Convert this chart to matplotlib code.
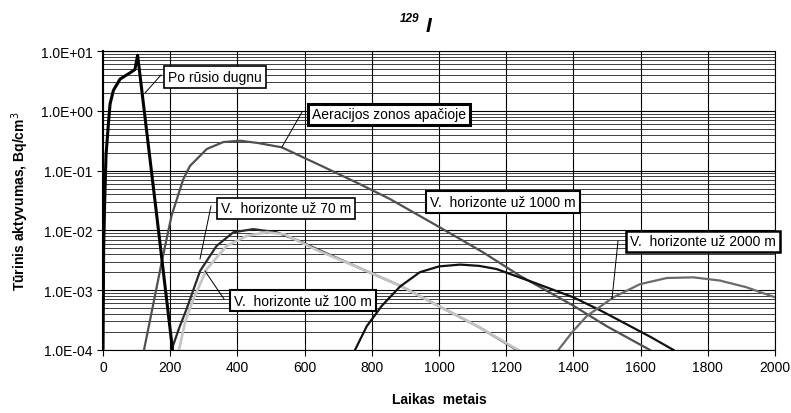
import numpy as np
from matplotlib import pyplot as plt
from matplotlib.ticker import FuncFormatter, LogLocator, MultipleLocator

plt.rcParams['font.family'] = ['Liberation Sans', 'DejaVu Sans']
plt.rcParams['font.size'] = 10

# kreivių duomenys (nuskaityti iš paveikslo)
po_x = [0, 2, 5, 9, 16, 21, 31, 51, 80, 95, 103, 160, 207]
po_y = [1e-4, 5e-3, 0.03, 0.18, 0.6, 1.3, 2.2, 3.4, 4.3, 4.9, 8.5, 0.0176, 1e-4]

aer_x = [122, 150, 175, 204, 239, 259, 309, 358, 408, 460, 532, 650, 760, 854,
         1003, 1131, 1241, 1400, 1499, 1628]
aer_y = [1e-4, 6e-4, 3e-3, 0.0176, 0.072, 0.12, 0.23, 0.30, 0.316, 0.29, 0.245,
         0.12, 0.061, 0.0335, 0.0112, 4.3e-3, 1.74e-3, 5.5e-4, 2.5e-4, 1e-4]

h70_x = [204, 225, 249, 289, 338, 388, 447, 517, 580, 636, 760, 884, 1003, 1120, 1232]
h70_y = [1e-4, 2.2e-4, 4.9e-4, 2.1e-3, 5.5e-3, 9.3e-3, 0.0105, 0.0093, 0.0068,
         0.0049, 0.0024, 1.19e-3, 5.3e-4, 2.4e-4, 1e-4]

h100_x = [226, 245, 269, 309, 368, 428, 487, 540, 636, 760, 884, 1003, 1120, 1236]
h100_y = [1e-4, 3e-4, 7.1e-4, 2.26e-3, 5.5e-3, 8.1e-3, 9.3e-3, 8.6e-3, 4.7e-3,
          2.4e-3, 1.19e-3, 5.3e-4, 2.4e-4, 1e-4]

h1000_x = [750, 785, 830, 884, 943, 1000, 1063, 1120, 1171, 1281, 1400, 1480,
           1558, 1630, 1698]
h1000_y = [1e-4, 2.5e-4, 5.5e-4, 1.15e-3, 2.0e-3, 2.5e-3, 2.68e-3, 2.55e-3,
           2.26e-3, 1.35e-3, 7.6e-4, 4.6e-4, 2.7e-4, 1.65e-4, 1e-4]

h2000_x = [1355, 1400, 1440, 1519, 1598, 1678, 1757, 1836, 1915, 2000]
h2000_y = [1e-4, 2.1e-4, 3.7e-4, 7.6e-4, 1.26e-3, 1.6e-3, 1.64e-3, 1.45e-3,
           1.12e-3, 7.6e-4]

W, H = 791, 414
fig = plt.figure(figsize=(W / 100, H / 100), dpi=100)
ax = fig.add_axes([103 / W, 1 - 351 / H, (775 - 103) / W, (351 - 52) / H])

ax.set_yscale('log')
ax.set_xlim(0, 2000)
ax.set_ylim(1e-4, 1e1)
ax.xaxis.set_major_locator(MultipleLocator(200))
ax.yaxis.set_major_locator(LogLocator(base=10, numticks=10))
ax.yaxis.set_minor_locator(LogLocator(base=10, subs=np.arange(2, 10), numticks=20))
ax.yaxis.set_major_formatter(FuncFormatter(lambda v, p: f"{v:.1E}"))
ax.yaxis.set_minor_formatter(FuncFormatter(lambda v, p: ""))

ax.grid(True, which='major', color='black', lw=0.8)
ax.grid(True, which='minor', axis='y', color='#202020', lw=0.6)
ax.tick_params(which='major', direction='out', length=4, width=0.8, labelsize=10)
ax.tick_params(which='minor', length=0)
for s in ax.spines.values():
    s.set_linewidth(0.8)
ax.spines['left'].set_linewidth(1.5)
ax.set_axisbelow(True)

ax.plot(aer_x, aer_y, color='#505050', lw=1.6)
ax.plot(h70_x, h70_y, color='#2a2a2a', lw=1.6)
ax.plot(h100_x, h100_y, color='#c4c4c4', lw=1.9)
ax.plot(h1000_x, h1000_y, color='#111111', lw=1.6)
ax.plot(h2000_x, h2000_y, color='#6a6a6a', lw=1.6)
ax.plot(po_x, po_y, color='black', lw=2.2)

ax.set_xlabel('Laikas  metais', fontweight='bold', labelpad=13)
ax.set_ylabel('Tūrinis aktyvumas, Bq/cm$^3$', fontweight='bold', labelpad=7)


def fp(px, py):
    return (px / W, 1 - py / H)


# užrašai su rėmeliais ir rodyklėmis
labels = [
    ('Po rūsio dugnu', (168, 78), (161, 76), (145, 94), 1.2),
    ('Aeracijos zonos apačioje', (312, 115.5), (302, 113), (282, 148), 2.2),
    ('V.  horizonte už 70 m', (221, 209.5), (211, 207), (200, 260), 1.2),
    ('V.  horizonte už 100 m', (234, 301.5), (224, 300), (205, 272), 1.5),
    ('V.  horizonte už 1000 m', (430, 203), (580, 202), (580, 297), 1.5),
    ('V.  horizonte už 2000 m', (630, 242.5), (618, 242), (612, 300), 1.8),
]
for txt, tpos, l0, l1, bw in labels:
    fig.add_artist(plt.Line2D([l0[0] / W, l1[0] / W], [1 - l0[1] / H, 1 - l1[1] / H],
                              transform=fig.transFigure, color='black', lw=0.7))
    fig.text(*fp(*tpos), txt, ha='left', va='center', fontsize=10,
             bbox=dict(boxstyle='square,pad=0.28', fc='white', ec='black', lw=bw))

fig.text(*fp(410, 19), '129', ha='center', va='center', fontsize=8.5,
         fontweight='bold', fontstyle='italic')
fig.text(*fp(428, 26), 'I', ha='center', va='center', fontsize=15,
         fontweight='bold', fontstyle='italic')

fig.savefig('out.png', dpi=100)
